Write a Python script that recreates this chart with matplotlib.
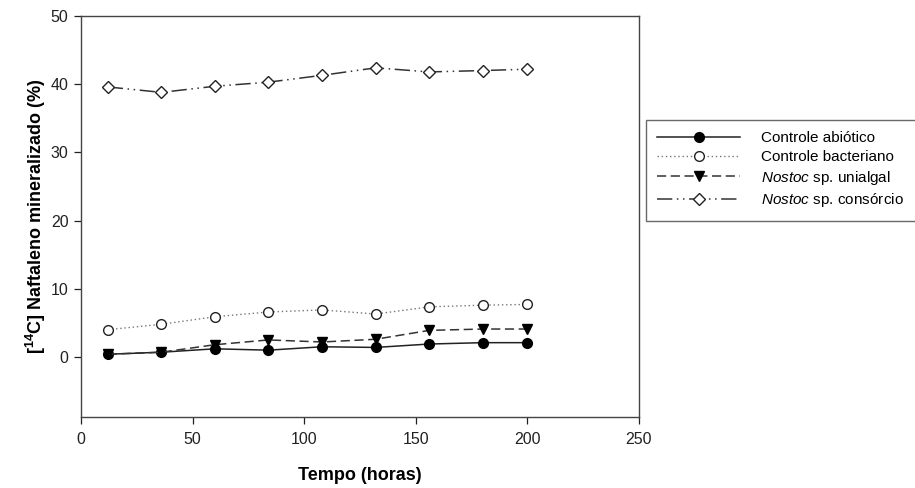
import numpy as np
import matplotlib
matplotlib.use("Agg")
import matplotlib.pyplot as plt

plt.rcParams["font.family"] = ["Liberation Sans", "DejaVu Sans"]
plt.rcParams["mathtext.fontset"] = "custom"
plt.rcParams["mathtext.rm"] = "Liberation Sans"
plt.rcParams["mathtext.it"] = "Liberation Sans:italic"
plt.rcParams["mathtext.bf"] = "Liberation Sans:bold"

# dados
tempo = [12, 36, 60, 84, 108, 132, 156, 180, 200]
abiotico = [0.4, 0.7, 1.2, 1.0, 1.5, 1.4, 1.9, 2.1, 2.1]
bacteriano = [4.0, 4.8, 5.9, 6.6, 6.9, 6.3, 7.35, 7.6, 7.7]
unialgal = [0.4, 0.7, 1.8, 2.5, 2.2, 2.6, 3.9, 4.1, 4.1]
consorcio = [39.6, 38.8, 39.7, 40.3, 41.3, 42.4, 41.8, 42.0, 42.2]

x_ticks = [0, 50, 100, 150, 200, 250]
y_ticks = [0, 10, 20, 30, 40, 50]

cor = "#222222"

fig = plt.figure(figsize=(9.15, 4.88), dpi=100)
ax = fig.add_axes([81 / 915, 1 - 417 / 488, (639 - 81) / 915, (417 - 16) / 488])

ax.plot(tempo, abiotico, color=cor, lw=1.1, ls="-", marker="o", ms=7,
        mfc="black", mec="black", label="Controle abiótico")
ax.plot(tempo, bacteriano, color="#777777", lw=1.0, ls=(0, (1, 2)), marker="o", ms=7,
        mfc="white", mec=cor, mew=1.0, label="Controle bacteriano")
ax.plot(tempo, unialgal, color="#333333", lw=1.1, ls=(0, (6, 3)), marker="v", ms=7,
        mfc="black", mec="black", label=r"$\mathit{Nostoc}$ sp. unialgal")
ax.plot(tempo, consorcio, color="#333333", lw=1.1, ls=(0, (10, 3, 1, 3, 1, 3)), marker="D", ms=6.5,
        mfc="white", mec=cor, mew=1.0, label=r"$\mathit{Nostoc}$ sp. consórcio")

ax.set_xlim(0, 250)
ax.set_ylim(-8.8, 50)
ax.set_xticks(x_ticks)
ax.set_yticks(y_ticks)
ax.tick_params(direction="out", length=5, width=0.9, labelsize=11.5, colors="#222222", pad=4)
ax.tick_params(axis="x", pad=6)
for s in ax.spines.values():
    s.set_linewidth(1.0)
    s.set_color("#444444")

ax.set_xlabel("Tempo (horas)", fontsize=13, fontweight="bold", labelpad=14)
ax.set_ylabel(r"[$\mathbf{^{14}}$C] Naftaleno mineralizado (%)", fontsize=13, fontweight="bold", labelpad=2)

leg = ax.legend(loc="upper left", bbox_to_anchor=(646 / 915, 1 - 120 / 488),
                bbox_transform=fig.transFigure, borderaxespad=0, fontsize=11,
                handlelength=5.4, numpoints=1, frameon=True, fancybox=False,
                labelspacing=0.3, handletextpad=1.4, borderpad=0.75)
leg.get_frame().set_edgecolor("#444444")
leg.get_frame().set_linewidth(1.0)

fig.savefig("out.png", dpi=100)
